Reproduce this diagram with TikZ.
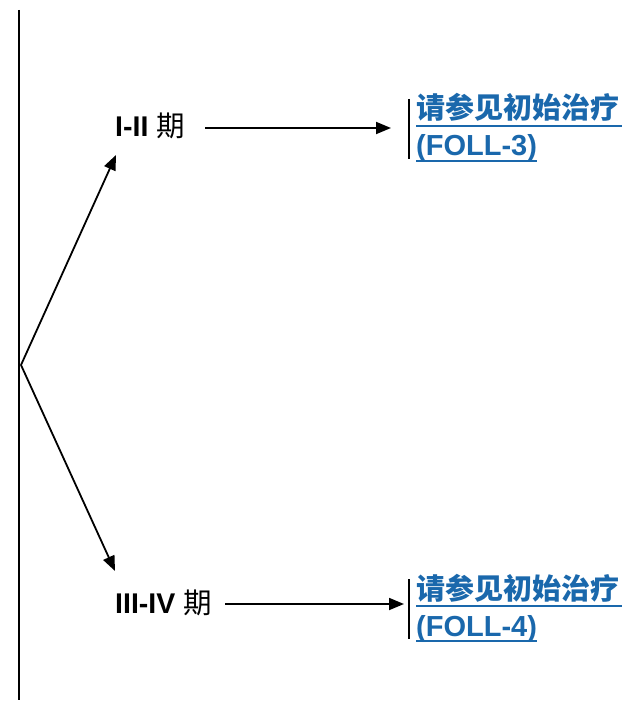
\documentclass[tikz,border=0pt]{standalone}
\usepackage{fontspec}
\setmainfont{Liberation Sans}
\newfontfamily\cjk{Noto Sans CJK SC}
\usetikzlibrary{arrows.meta}
\definecolor{linkblue}{HTML}{1A68AC}
\tikzset{
  conn/.style={line width=1.8pt,-{Triangle[length=15pt,width=12pt]}},
  stage/.style={anchor=base west,inner sep=0pt,font=\fontsize{28.5}{30}\selectfont},
  link/.style={anchor=base west,inner sep=0pt,text=linkblue,font=\fontsize{29}{30}\selectfont\bfseries},
  bar/.style={line width=2pt},
  uline/.style={line width=1.8pt,linkblue}
}
\begin{document}
\begin{tikzpicture}[x=1pt,y=-1pt]
\useasboundingbox (0,0) rectangle (626,703);
\draw[line width=2pt] (19,10) coordinate (vt) -- (19,700) coordinate (vb);
\coordinate (br) at (21,365);
\node[stage] (s1) at (115,137) {\textbf{I-II} {\cjk 期}};
\node[stage] (s2) at (115,613) {\textbf{III-IV} {\cjk 期}};
\coordinate (a1) at (116,155);
\coordinate (a2) at (115,571);
\draw[conn] (br) -- (a1);
\draw[conn] (br) -- (a2);
% top link
\coordinate (t1s) at (205,128);
\coordinate (t1e) at (391,128);
\draw[conn] (t1s) -- (t1e);
\draw[bar] (409,99) coordinate (b1t) -- (409,159) coordinate (b1b);
\node[link] (l1a) at (416,119) {{\cjk\bfseries 请参见初始治疗}};
\node[link] (l1b) at (416,156) {(FOLL-3)};
\draw[uline] (416,126) coordinate (u1s) -- (622,126) coordinate (u1e);
\draw[uline] (416,161) coordinate (u2s) -- (l1b.east |- u2s) coordinate (u2e);
% bottom link
\coordinate (t2s) at (225,604);
\coordinate (t2e) at (404,604);
\draw[conn] (t2s) -- (t2e);
\draw[bar] (409,579) coordinate (b2t) -- (409,639) coordinate (b2b);
\node[link] (l2a) at (416,599) {{\cjk\bfseries 请参见初始治疗}};
\node[link] (l2b) at (416,636) {(FOLL-4)};
\draw[uline] (416,606) coordinate (u3s) -- (622,606) coordinate (u3e);
\draw[uline] (416,641) coordinate (u4s) -- (l2b.east |- u4s) coordinate (u4e);
\end{tikzpicture}
\end{document}
